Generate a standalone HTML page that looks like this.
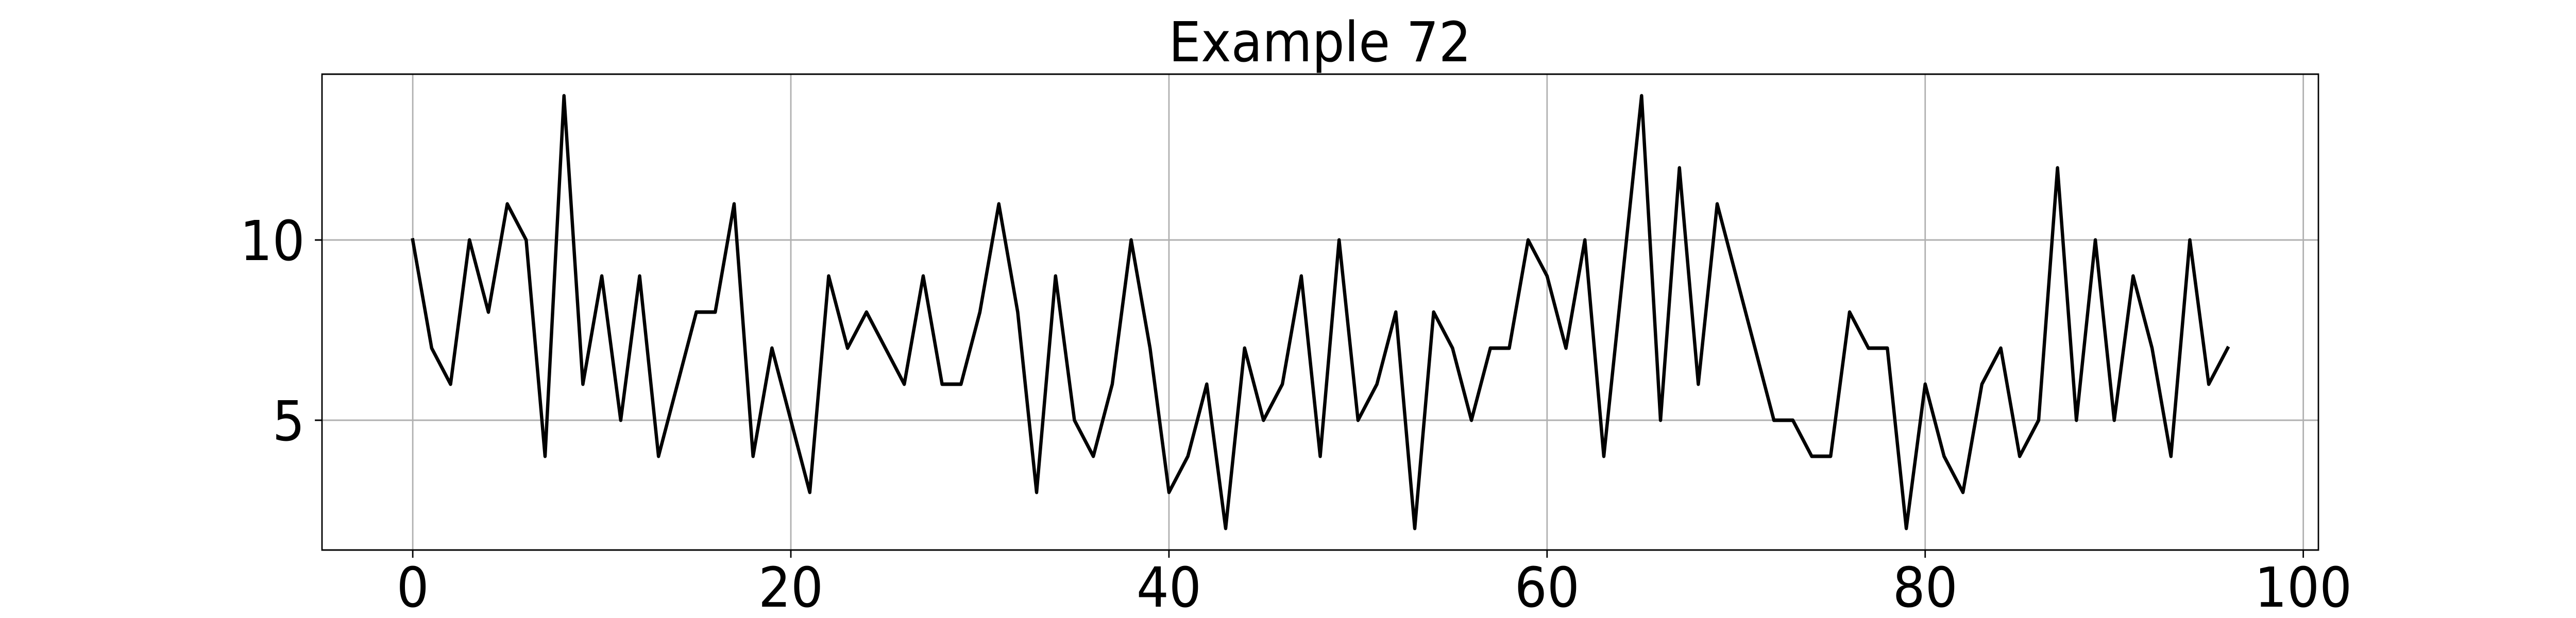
<!DOCTYPE html>
<html><head><meta charset="utf-8"><style>
html,body{margin:0;padding:0;background:#fff;width:100%;height:100%;overflow:hidden;}
svg{display:block;width:100%;height:100%;font-family:"DejaVu Sans","Liberation Sans",sans-serif;}
</style></head><body>
<svg id="chart" viewBox="0 0 5400 1200" preserveAspectRatio="none">
<rect x="0" y="0" width="5400" height="1200" fill="#fff"/>
<text x="2767" y="119" font-size="107" text-anchor="middle" fill="#000">Example 72</text>
<g id="grid"></g>
<g id="series"></g>
<rect x="675" y="144" width="4185" height="924" fill="none" stroke="#000" stroke-width="3"/>
<g id="ticks"></g>
</svg>
<script>
const xValues = [0,1,2,3,4,5,6,7,8,9,10,11,12,13,14,15,16,17,18,19,20,21,22,23,24,25,26,27,28,29,30,31,32,33,34,35,36,37,38,39,40,41,42,43,44,45,46,47,48,49,50,51,52,53,54,55,56,57,58,59,60,61,62,63,64,65,66,67,68,69,70,71,72,73,74,75,76,77,78,79,80,81,82,83,84,85,86,87,88,89,90,91,92,93,94,95,96];
const yValues = [10,7,6,10,8,11,10,4,14,6,9,5,9,4,6,8,8,11,4,7,5,3,9,7,8,7,6,9,6,6,8,11,8,3,9,5,4,6,10,7,3,4,6,2,7,5,6,9,4,10,5,6,8,2,8,7,5,7,7,10,9,7,10,4,9,14,5,12,6,11,9,7,5,5,4,4,8,7,7,2,6,4,3,6,7,4,5,12,5,10,5,9,7,4,10,6,7];
const xTicks = [0,20,40,60,80,100];
const yTicks = [5,10];
const xDomain = [-4.8, 100.8];
const yDomain = [1.4, 14.6];

const L=675,R=4860,T=144,B=1068;
const NS='http://www.w3.org/2000/svg';
function sx(v){return L+(v-xDomain[0])/(xDomain[1]-xDomain[0])*(R-L);}
function sy(v){return B-(v-yDomain[0])/(yDomain[1]-yDomain[0])*(B-T);}
function mk(tag,attrs,parent){const e=document.createElementNS(NS,tag);for(const k in attrs)e.setAttribute(k,attrs[k]);parent.appendChild(e);return e;}
const grid=document.getElementById('grid'),ticks=document.getElementById('ticks'),series=document.getElementById('series');
xTicks.forEach(t=>{
  const x=sx(t);
  const g=mk('line',{x1:x,x2:x,y1:T,y2:B,stroke:'#b0b0b0','stroke-width':3},grid);
  
  
  const tk=mk('line',{x1:x,x2:x,y1:B,y2:B+15,stroke:'#000','stroke-width':3},ticks);
  
  
  const tx=mk('text',{x:x,y:B+110,'font-size':107,'text-anchor':'middle',fill:'#000'},ticks);
  tx.textContent=String(t);
  
  
});
yTicks.forEach(t=>{
  const y=sy(t);
  const g=mk('line',{x1:L,x2:R,y1:y,y2:y,stroke:'#b0b0b0','stroke-width':3},grid);
  
  
  const tk=mk('line',{x1:L-15,x2:L,y1:y,y2:y,stroke:'#000','stroke-width':3},ticks);
  
  
  const tx=mk('text',{x:L-36,y:y+39,'font-size':107,'text-anchor':'end',fill:'#000'},ticks);
  tx.textContent=String(t);
  
  
});
const pts=xValues.map((x,i)=>sx(x).toFixed(1)+','+sy(yValues[i]).toFixed(1)).join(' ');
const line=mk('polyline',{points:pts,fill:'none',stroke:'#000','stroke-width':7,'stroke-linejoin':'round','stroke-linecap':'square'},series);


</script>
</body></html>
